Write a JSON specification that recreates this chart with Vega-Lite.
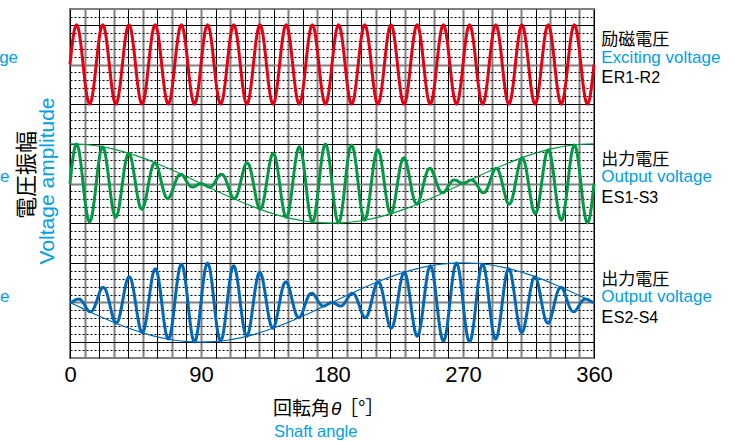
{
"$schema": "https://vega.github.io/schema/vega-lite/v6.json",
"width": 524, "height": 349,
"autosize": {"type": "none"},
"padding": {"left": 70, "top": 9, "right": 141, "bottom": 83},
"background": "white",
"config": {"view": {"stroke": "#808080", "strokeWidth": 2}, "font": "Liberation Sans"},
"datasets": {
"w": [
{"x":0,"r":37,"g":22,"b":7},{"x":1.5,"r":39.5,"g":24.5,"b":7.07},{"x":3,"r":41.33,"g":26.32,"b":7.23},{"x":4.5,"r":42,"g":26.98,"b":7.39},{"x":6,"r":41.33,"g":26.31,"b":7.45},{"x":7.5,"r":39.5,"g":24.48,"b":7.33},
{"x":9,"r":37,"g":22,"b":7},{"x":10.5,"r":34.5,"g":19.54,"b":6.54},{"x":12,"r":32.67,"g":17.76,"b":6.1},{"x":13.5,"r":32,"g":17.14,"b":5.83},{"x":15,"r":32.67,"g":17.82,"b":5.88},{"x":16.5,"r":34.5,"g":19.6,"b":6.29},
{"x":18,"r":37,"g":22,"b":7},{"x":19.5,"r":39.5,"g":24.36,"b":7.83},{"x":21,"r":41.33,"g":26.04,"b":8.55},{"x":22.5,"r":42,"g":26.62,"b":8.91},{"x":24,"r":41.33,"g":25.96,"b":8.76},{"x":25.5,"r":39.5,"g":24.26,"b":8.08},
{"x":27,"r":37,"g":22,"b":7},{"x":28.5,"r":34.5,"g":19.8,"b":5.81},{"x":30,"r":32.67,"g":18.25,"b":4.83},{"x":31.5,"r":32,"g":17.74,"b":4.39},{"x":33,"r":32.67,"g":18.37,"b":4.64},{"x":34.5,"r":34.5,"g":19.94,"b":5.58},
{"x":36,"r":37,"g":22,"b":7},{"x":37.5,"r":39.5,"g":23.98,"b":8.52},{"x":39,"r":41.33,"g":25.37,"b":9.73},{"x":40.5,"r":42,"g":25.8,"b":10.25},{"x":42,"r":41.33,"g":25.22,"b":9.9},{"x":43.5,"r":39.5,"g":23.81,"b":8.72},
{"x":45,"r":37,"g":22,"b":7},{"x":46.5,"r":34.5,"g":20.28,"b":5.19},{"x":48,"r":32.67,"g":19.1,"b":3.78},{"x":49.5,"r":32,"g":18.75,"b":3.2},{"x":51,"r":32.67,"g":19.28,"b":3.63},{"x":52.5,"r":34.5,"g":20.48,"b":5.02},
{"x":54,"r":37,"g":22,"b":7},{"x":55.5,"r":39.5,"g":23.42,"b":9.06},{"x":57,"r":41.33,"g":24.36,"b":10.63},{"x":58.5,"r":42,"g":24.61,"b":11.26},{"x":60,"r":41.33,"g":24.17,"b":10.75},{"x":61.5,"r":39.5,"g":23.19,"b":9.2},
{"x":63,"r":37,"g":22,"b":7},{"x":64.5,"r":34.5,"g":20.92,"b":4.74},{"x":66,"r":32.67,"g":20.24,"b":3.04},{"x":67.5,"r":32,"g":20.09,"b":2.38},{"x":69,"r":32.67,"g":20.45,"b":2.96},{"x":70.5,"r":34.5,"g":21.17,"b":4.64},
{"x":72,"r":37,"g":22,"b":7},{"x":73.5,"r":39.5,"g":22.71,"b":9.4},{"x":75,"r":41.33,"g":23.12,"b":11.18},{"x":76.5,"r":42,"g":23.17,"b":11.86},{"x":78,"r":41.33,"g":22.9,"b":11.24},{"x":79.5,"r":39.5,"g":22.46,"b":9.46},
{"x":81,"r":37,"g":22,"b":7},{"x":82.5,"r":34.5,"g":21.67,"b":4.52},{"x":84,"r":32.67,"g":21.55,"b":2.69},{"x":85.5,"r":32,"g":21.61,"b":2.02},{"x":87,"r":32.67,"g":21.77,"b":2.68},{"x":88.5,"r":34.5,"g":21.93,"b":4.5},
{"x":90,"r":37,"g":22,"b":7},{"x":91.5,"r":39.5,"g":21.93,"b":9.5},{"x":93,"r":41.33,"g":21.77,"b":11.32},{"x":94.5,"r":42,"g":21.61,"b":11.98},{"x":96,"r":41.33,"g":21.55,"b":11.31},{"x":97.5,"r":39.5,"g":21.67,"b":9.48},
{"x":99,"r":37,"g":22,"b":7},{"x":100.5,"r":34.5,"g":22.46,"b":4.54},{"x":102,"r":32.67,"g":22.9,"b":2.76},{"x":103.5,"r":32,"g":23.17,"b":2.14},{"x":105,"r":32.67,"g":23.12,"b":2.82},{"x":106.5,"r":34.5,"g":22.71,"b":4.6},
{"x":108,"r":37,"g":22,"b":7},{"x":109.5,"r":39.5,"g":21.17,"b":9.36},{"x":111,"r":41.33,"g":20.45,"b":11.04},{"x":112.5,"r":42,"g":20.09,"b":11.62},{"x":114,"r":41.33,"g":20.24,"b":10.96},{"x":115.5,"r":39.5,"g":20.92,"b":9.26},
{"x":117,"r":37,"g":22,"b":7},{"x":118.5,"r":34.5,"g":23.19,"b":4.8},{"x":120,"r":32.67,"g":24.17,"b":3.25},{"x":121.5,"r":32,"g":24.61,"b":2.74},{"x":123,"r":32.67,"g":24.36,"b":3.37},{"x":124.5,"r":34.5,"g":23.42,"b":4.94},
{"x":126,"r":37,"g":22,"b":7},{"x":127.5,"r":39.5,"g":20.48,"b":8.98},{"x":129,"r":41.33,"g":19.28,"b":10.37},{"x":130.5,"r":42,"g":18.75,"b":10.8},{"x":132,"r":41.33,"g":19.1,"b":10.22},{"x":133.5,"r":39.5,"g":20.28,"b":8.81},
{"x":135,"r":37,"g":22,"b":7},{"x":136.5,"r":34.5,"g":23.81,"b":5.28},{"x":138,"r":32.67,"g":25.22,"b":4.1},{"x":139.5,"r":32,"g":25.8,"b":3.75},{"x":141,"r":32.67,"g":25.37,"b":4.28},{"x":142.5,"r":34.5,"g":23.98,"b":5.48},
{"x":144,"r":37,"g":22,"b":7},{"x":145.5,"r":39.5,"g":19.94,"b":8.42},{"x":147,"r":41.33,"g":18.37,"b":9.36},{"x":148.5,"r":42,"g":17.74,"b":9.61},{"x":150,"r":41.33,"g":18.25,"b":9.17},{"x":151.5,"r":39.5,"g":19.8,"b":8.19},
{"x":153,"r":37,"g":22,"b":7},{"x":154.5,"r":34.5,"g":24.26,"b":5.92},{"x":156,"r":32.67,"g":25.96,"b":5.24},{"x":157.5,"r":32,"g":26.62,"b":5.09},{"x":159,"r":32.67,"g":26.04,"b":5.45},{"x":160.5,"r":34.5,"g":24.36,"b":6.17},
{"x":162,"r":37,"g":22,"b":7},{"x":163.5,"r":39.5,"g":19.6,"b":7.71},{"x":165,"r":41.33,"g":17.82,"b":8.12},{"x":166.5,"r":42,"g":17.14,"b":8.17},{"x":168,"r":41.33,"g":17.76,"b":7.9},{"x":169.5,"r":39.5,"g":19.54,"b":7.46},
{"x":171,"r":37,"g":22,"b":7},{"x":172.5,"r":34.5,"g":24.48,"b":6.67},{"x":174,"r":32.67,"g":26.31,"b":6.55},{"x":175.5,"r":32,"g":26.98,"b":6.61},{"x":177,"r":32.67,"g":26.32,"b":6.77},{"x":178.5,"r":34.5,"g":24.5,"b":6.93},
{"x":180,"r":37,"g":22,"b":7},{"x":181.5,"r":39.5,"g":19.5,"b":6.93},{"x":183,"r":41.33,"g":17.68,"b":6.77},{"x":184.5,"r":42,"g":17.02,"b":6.61},{"x":186,"r":41.33,"g":17.69,"b":6.55},{"x":187.5,"r":39.5,"g":19.52,"b":6.67},
{"x":189,"r":37,"g":22,"b":7},{"x":190.5,"r":34.5,"g":24.46,"b":7.46},{"x":192,"r":32.67,"g":26.24,"b":7.9},{"x":193.5,"r":32,"g":26.86,"b":8.17},{"x":195,"r":32.67,"g":26.18,"b":8.12},{"x":196.5,"r":34.5,"g":24.4,"b":7.71},
{"x":198,"r":37,"g":22,"b":7},{"x":199.5,"r":39.5,"g":19.64,"b":6.17},{"x":201,"r":41.33,"g":17.96,"b":5.45},{"x":202.5,"r":42,"g":17.38,"b":5.09},{"x":204,"r":41.33,"g":18.04,"b":5.24},{"x":205.5,"r":39.5,"g":19.74,"b":5.92},
{"x":207,"r":37,"g":22,"b":7},{"x":208.5,"r":34.5,"g":24.2,"b":8.19},{"x":210,"r":32.67,"g":25.75,"b":9.17},{"x":211.5,"r":32,"g":26.26,"b":9.61},{"x":213,"r":32.67,"g":25.63,"b":9.36},{"x":214.5,"r":34.5,"g":24.06,"b":8.42},
{"x":216,"r":37,"g":22,"b":7},{"x":217.5,"r":39.5,"g":20.02,"b":5.48},{"x":219,"r":41.33,"g":18.63,"b":4.27},{"x":220.5,"r":42,"g":18.2,"b":3.75},{"x":222,"r":41.33,"g":18.78,"b":4.1},{"x":223.5,"r":39.5,"g":20.19,"b":5.28},
{"x":225,"r":37,"g":22,"b":7},{"x":226.5,"r":34.5,"g":23.72,"b":8.81},{"x":228,"r":32.67,"g":24.9,"b":10.22},{"x":229.5,"r":32,"g":25.25,"b":10.8},{"x":231,"r":32.67,"g":24.72,"b":10.37},{"x":232.5,"r":34.5,"g":23.52,"b":8.98},
{"x":234,"r":37,"g":22,"b":7},{"x":235.5,"r":39.5,"g":20.58,"b":4.94},{"x":237,"r":41.33,"g":19.64,"b":3.37},{"x":238.5,"r":42,"g":19.39,"b":2.74},{"x":240,"r":41.33,"g":19.83,"b":3.25},{"x":241.5,"r":39.5,"g":20.81,"b":4.8},
{"x":243,"r":37,"g":22,"b":7},{"x":244.5,"r":34.5,"g":23.08,"b":9.26},{"x":246,"r":32.67,"g":23.76,"b":10.96},{"x":247.5,"r":32,"g":23.91,"b":11.62},{"x":249,"r":32.67,"g":23.55,"b":11.04},{"x":250.5,"r":34.5,"g":22.83,"b":9.36},
{"x":252,"r":37,"g":22,"b":7},{"x":253.5,"r":39.5,"g":21.29,"b":4.6},{"x":255,"r":41.33,"g":20.88,"b":2.82},{"x":256.5,"r":42,"g":20.83,"b":2.14},{"x":258,"r":41.33,"g":21.1,"b":2.76},{"x":259.5,"r":39.5,"g":21.54,"b":4.54},
{"x":261,"r":37,"g":22,"b":7},{"x":262.5,"r":34.5,"g":22.33,"b":9.48},{"x":264,"r":32.67,"g":22.45,"b":11.31},{"x":265.5,"r":32,"g":22.39,"b":11.98},{"x":267,"r":32.67,"g":22.23,"b":11.32},{"x":268.5,"r":34.5,"g":22.07,"b":9.5},
{"x":270,"r":37,"g":22,"b":7},{"x":271.5,"r":39.5,"g":22.07,"b":4.5},{"x":273,"r":41.33,"g":22.23,"b":2.68},{"x":274.5,"r":42,"g":22.39,"b":2.02},{"x":276,"r":41.33,"g":22.45,"b":2.69},{"x":277.5,"r":39.5,"g":22.33,"b":4.52},
{"x":279,"r":37,"g":22,"b":7},{"x":280.5,"r":34.5,"g":21.54,"b":9.46},{"x":282,"r":32.67,"g":21.1,"b":11.24},{"x":283.5,"r":32,"g":20.83,"b":11.86},{"x":285,"r":32.67,"g":20.88,"b":11.18},{"x":286.5,"r":34.5,"g":21.29,"b":9.4},
{"x":288,"r":37,"g":22,"b":7},{"x":289.5,"r":39.5,"g":22.83,"b":4.64},{"x":291,"r":41.33,"g":23.55,"b":2.96},{"x":292.5,"r":42,"g":23.91,"b":2.38},{"x":294,"r":41.33,"g":23.76,"b":3.04},{"x":295.5,"r":39.5,"g":23.08,"b":4.74},
{"x":297,"r":37,"g":22,"b":7},{"x":298.5,"r":34.5,"g":20.81,"b":9.2},{"x":300,"r":32.67,"g":19.83,"b":10.75},{"x":301.5,"r":32,"g":19.39,"b":11.26},{"x":303,"r":32.67,"g":19.64,"b":10.63},{"x":304.5,"r":34.5,"g":20.58,"b":9.06},
{"x":306,"r":37,"g":22,"b":7},{"x":307.5,"r":39.5,"g":23.52,"b":5.02},{"x":309,"r":41.33,"g":24.72,"b":3.63},{"x":310.5,"r":42,"g":25.25,"b":3.2},{"x":312,"r":41.33,"g":24.9,"b":3.78},{"x":313.5,"r":39.5,"g":23.72,"b":5.19},
{"x":315,"r":37,"g":22,"b":7},{"x":316.5,"r":34.5,"g":20.19,"b":8.72},{"x":318,"r":32.67,"g":18.78,"b":9.9},{"x":319.5,"r":32,"g":18.2,"b":10.25},{"x":321,"r":32.67,"g":18.63,"b":9.72},{"x":322.5,"r":34.5,"g":20.02,"b":8.52},
{"x":324,"r":37,"g":22,"b":7},{"x":325.5,"r":39.5,"g":24.06,"b":5.58},{"x":327,"r":41.33,"g":25.63,"b":4.64},{"x":328.5,"r":42,"g":26.26,"b":4.39},{"x":330,"r":41.33,"g":25.75,"b":4.83},{"x":331.5,"r":39.5,"g":24.2,"b":5.81},
{"x":333,"r":37,"g":22,"b":7},{"x":334.5,"r":34.5,"g":19.74,"b":8.08},{"x":336,"r":32.67,"g":18.04,"b":8.76},{"x":337.5,"r":32,"g":17.38,"b":8.91},{"x":339,"r":32.67,"g":17.96,"b":8.55},{"x":340.5,"r":34.5,"g":19.64,"b":7.83},
{"x":342,"r":37,"g":22,"b":7},{"x":343.5,"r":39.5,"g":24.4,"b":6.29},{"x":345,"r":41.33,"g":26.18,"b":5.88},{"x":346.5,"r":42,"g":26.86,"b":5.83},{"x":348,"r":41.33,"g":26.24,"b":6.1},{"x":349.5,"r":39.5,"g":24.46,"b":6.54},
{"x":351,"r":37,"g":22,"b":7},{"x":352.5,"r":34.5,"g":19.52,"b":7.33},{"x":354,"r":32.67,"g":17.69,"b":7.45},{"x":355.5,"r":32,"g":17.02,"b":7.39},{"x":357,"r":32.67,"g":17.68,"b":7.23},{"x":358.5,"r":34.5,"g":19.5,"b":7.07},
{"x":360,"r":37,"g":22,"b":7}
],
"e": [
{"x":0,"ge":27,"be":7},{"x":9,"ge":26.94,"be":6.22},{"x":18,"ge":26.76,"be":5.45},{"x":27,"ge":26.46,"be":4.73},{"x":36,"ge":26.05,"be":4.06},{"x":45,"ge":25.54,"be":3.46},{"x":54,"ge":24.94,"be":2.95},{"x":63,"ge":24.27,"be":2.54},{"x":72,"ge":23.55,"be":2.24},{"x":81,"ge":22.78,"be":2.06},
{"x":90,"ge":22,"be":2},{"x":99,"ge":21.22,"be":2.06},{"x":108,"ge":20.45,"be":2.24},{"x":117,"ge":19.73,"be":2.54},{"x":126,"ge":19.06,"be":2.95},{"x":135,"ge":18.46,"be":3.46},{"x":144,"ge":17.95,"be":4.06},{"x":153,"ge":17.54,"be":4.73},{"x":162,"ge":17.24,"be":5.45},{"x":171,"ge":17.06,"be":6.22},
{"x":180,"ge":17,"be":7},{"x":189,"ge":17.06,"be":7.78},{"x":198,"ge":17.24,"be":8.55},{"x":207,"ge":17.54,"be":9.27},{"x":216,"ge":17.95,"be":9.94},{"x":225,"ge":18.46,"be":10.54},{"x":234,"ge":19.06,"be":11.05},{"x":243,"ge":19.73,"be":11.46},{"x":252,"ge":20.45,"be":11.76},{"x":261,"ge":21.22,"be":11.94},
{"x":270,"ge":22,"be":12},{"x":279,"ge":22.78,"be":11.94},{"x":288,"ge":23.55,"be":11.76},{"x":297,"ge":24.27,"be":11.46},{"x":306,"ge":24.94,"be":11.05},{"x":315,"ge":25.54,"be":10.54},{"x":324,"ge":26.05,"be":9.94},{"x":333,"ge":26.46,"be":9.27},{"x":342,"ge":26.76,"be":8.55},{"x":351,"ge":26.94,"be":7.78},
{"x":360,"ge":27,"be":7}
],
"lab": [
{"x":365,"v":39.45,"t":"励磁電圧","k":"jp"},
{"x":365,"v":37.23,"t":"Exciting voltage","k":"en"},
{"x":365,"v":34.63,"t":"E","k":"E"},
{"x":373.6,"v":34.63,"t":"R1-R2","k":"sub"},
{"x":365,"v":24.32,"t":"出力電圧","k":"jp"},
{"x":365,"v":22.23,"t":"Output voltage","k":"en"},
{"x":365,"v":19.5,"t":"E","k":"E"},
{"x":373.6,"v":19.5,"t":"S1-S3","k":"sub"},
{"x":365,"v":9.19,"t":"出力電圧","k":"jp"},
{"x":365,"v":7.1,"t":"Output voltage","k":"en"},
{"x":365,"v":4.37,"t":"E","k":"E"},
{"x":373.6,"v":4.37,"t":"S2-S4","k":"sub"},
{"x":-117.5,"v":37.23,"t":"Exciting voltage","k":"en"},
{"x":-117.5,"v":22.23,"t":"Output voltage","k":"en"},
{"x":-117.5,"v":7.1,"t":"Output voltage","k":"en"},
{"x":-29.5,"v":23.07,"t":"電圧振幅","k":"ytj"},
{"x":-14.9,"v":22.32,"t":"Voltage amplitude","k":"yte"},
{"x":139.5,"v":-7.15,"t":"回転角","k":"xtj"},
{"x":179.3,"v":-7.15,"t":"θ","k":"xth"},
{"x":185,"v":-7.15,"t":"［°］","k":"xtj"},
{"x":140.1,"v":-9.9,"t":"Shaft angle","k":"xte"}
]
},
"encoding": {
"x": {"field": "x", "type": "quantitative",
 "scale": {"domain": [0, 360], "nice": false, "zero": false},
 "axis": {"values": [0,10,20,30,40,50,60,70,80,90,100,110,120,130,140,150,160,170,180,190,200,210,220,230,240,250,260,270,280,290,300,310,320,330,340,350,360],
  "title": null, "domain": false, "ticks": false, "tickSize": 0,
  "labelExpr": "datum.value % 90 === 0 ? datum.label : ''",
  "labelFontSize": 22, "labelColor": "black", "labelFont": "Liberation Sans", "labelPadding": 6, "labelFlush": false, "labelOverlap": false,
  "grid": true, "gridOpacity": 1,
  "gridColor": {"condition": {"test": "datum.value % 20 === 0", "value": "#000000"}, "value": "#808080"},
  "gridWidth": {"condition": {"test": "datum.value % 20 === 0", "value": 1}, "value": 2}}},
"y": {"field": "v", "type": "quantitative",
 "scale": {"domain": [0, 44], "nice": false, "zero": false},
 "axis": {"values": [1,2,3,4,5,6,7,8,9,10,11,12,13,14,15,16,17,18,19,20,21,22,23,24,25,26,27,28,29,30,31,32,33,34,35,36,37,38,39,40,41,42,43],
  "title": null, "domain": false, "ticks": false, "labels": false,
  "grid": true, "gridOpacity": 1,
  "gridColor": {"condition": {"test": "datum.value === 7 || datum.value === 22 || datum.value === 37", "value": "#808080"}, "value": "#000000"},
  "gridWidth": {"condition": {"test": "datum.value === 7 || datum.value === 22 || datum.value === 37", "value": 2}, "value": 1},
  "gridDash": {"condition": {"test": "(datum.value - 2) % 5 === 0", "value": []}, "value": [2, 2]}}}
},
"layer": [
{"data": {"name": "e"}, "transform": [{"fold": ["ge", "be"], "as": ["s", "v"]}],
 "mark": {"type": "line", "strokeWidth": 1.2, "interpolate": "monotone"},
 "encoding": {"color": {"field": "s", "type": "nominal", "scale": {"domain": ["r","g","b","ge","be"], "range": ["#E60012","#009944","#0068B7","#009944","#0068B7"]}, "legend": null}}},
{"data": {"name": "w"}, "transform": [{"fold": ["r", "g", "b"], "as": ["s", "v"]}],
 "mark": {"type": "line", "strokeWidth": 3, "interpolate": "monotone"},
 "encoding": {"color": {"field": "s", "type": "nominal", "scale": {"domain": ["r","g","b","ge","be"], "range": ["#E60012","#009944","#0068B7","#009944","#0068B7"]}, "legend": null}}},
{"data": {"name": "lab"}, "transform": [{"filter": "datum.k === 'jp'"}],
 "mark": {"type": "text", "align": "left", "baseline": "alphabetic", "font": "Noto Sans CJK JP", "fontSize": 17, "color": "#000000"},
 "encoding": {"text": {"field": "t"}}},
{"data": {"name": "lab"}, "transform": [{"filter": "datum.k === 'en'"}],
 "mark": {"type": "text", "align": "left", "baseline": "alphabetic", "font": "Liberation Sans", "fontSize": 17, "color": "#00A0E9"},
 "encoding": {"text": {"field": "t"}}},
{"data": {"name": "lab"}, "transform": [{"filter": "datum.k === 'E'"}],
 "mark": {"type": "text", "align": "left", "baseline": "alphabetic", "font": "Liberation Sans", "fontSize": 18, "color": "#000000"},
 "encoding": {"text": {"field": "t"}}},
{"data": {"name": "lab"}, "transform": [{"filter": "datum.k === 'sub'"}],
 "mark": {"type": "text", "align": "left", "baseline": "alphabetic", "font": "Liberation Sans", "fontSize": 16, "color": "#000000"},
 "encoding": {"text": {"field": "t"}}},
{"data": {"name": "lab"}, "transform": [{"filter": "datum.k === 'ytj'"}],
 "mark": {"type": "text", "align": "center", "baseline": "middle", "angle": 270, "font": "Noto Sans CJK JP", "fontSize": 22, "color": "#000000"},
 "encoding": {"text": {"field": "t"}}},
{"data": {"name": "lab"}, "transform": [{"filter": "datum.k === 'yte'"}],
 "mark": {"type": "text", "align": "center", "baseline": "middle", "angle": 270, "font": "Liberation Sans", "fontSize": 21, "color": "#00A0E9"},
 "encoding": {"text": {"field": "t"}}},
{"data": {"name": "lab"}, "transform": [{"filter": "datum.k === 'xtj'"}],
 "mark": {"type": "text", "align": "left", "baseline": "alphabetic", "font": "Noto Sans CJK JP", "fontSize": 19, "color": "#000000"},
 "encoding": {"text": {"field": "t"}}},
{"data": {"name": "lab"}, "transform": [{"filter": "datum.k === 'xth'"}],
 "mark": {"type": "text", "align": "left", "baseline": "alphabetic", "font": "Liberation Sans", "fontStyle": "italic", "fontSize": 19, "color": "#000000"},
 "encoding": {"text": {"field": "t"}}},
{"data": {"name": "lab"}, "transform": [{"filter": "datum.k === 'xte'"}],
 "mark": {"type": "text", "align": "left", "baseline": "alphabetic", "font": "Liberation Sans", "fontSize": 16.5, "color": "#00A0E9"},
 "encoding": {"text": {"field": "t"}}}
]
}
